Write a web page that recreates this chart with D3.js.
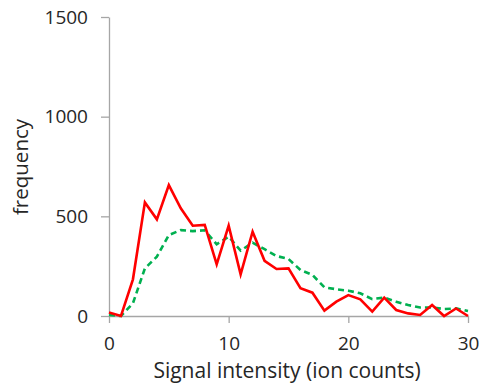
<!DOCTYPE html>
<html>
<head>
<meta charset="utf-8">
<script src="https://cdn.jsdelivr.net/npm/d3@7"></script>
<style>
  html, body { margin: 0; padding: 0; background: #fff; }
  svg { display: block; }
  text { font-family: "Open Sans", "Liberation Sans", sans-serif; fill: #262626; }
</style>
</head>
<body>
<svg id="chart" width="481" height="386"></svg>
<script>
// Signal intensity bins (ion counts)
const intensity = d3.range(0, 31);
// Observed frequency per bin
const observed = [17, 0, 184, 570, 485, 657, 540, 453, 457, 259, 453, 209, 423, 277, 236, 239,
                  139, 117, 27, 72, 105, 84, 22, 92, 30, 13, 5, 55, 0, 38, 0];
// Model frequency per bin
const modeled = [5, 0, 64, 239, 298, 406, 431, 426, 430, 360, 398, 328, 368, 335, 301, 286,
                 231, 206, 144, 134, 127, 114, 85, 92, 72, 55, 43, 43, 35, 38, 25];
const xTicks = [0, 10, 20, 30];
const yTicks = [0, 500, 1000, 1500];

const svg = d3.select("#chart");
const x = d3.scaleLinear().domain([0, 30]).range([109, 468]);
const y = d3.scaleLinear().domain([0, 1500]).range([316, 17]);

const axisColor = "#a6a6a6";
const fontStack = '"Open Sans", "Liberation Sans", sans-serif';

// x axis
const gx = svg.append("g").attr("transform", `translate(0,${y(0)})`)
  .call(d3.axisBottom(x).tickValues(xTicks).tickFormat(d3.format("d"))
    .tickSize(7).tickSizeOuter(0).tickPadding(14));
// y axis
const gy = svg.append("g").attr("transform", `translate(${x(0)},0)`)
  .call(d3.axisLeft(y).tickValues(yTicks).tickFormat(d3.format("d"))
    .tickSize(8).tickSizeOuter(0).tickPadding(13));

[gx, gy].forEach(g => {
  g.select(".domain").attr("stroke", axisColor).attr("stroke-width", 1.3);
  g.selectAll(".tick line").attr("stroke", axisColor).attr("stroke-width", 1.3);
  g.selectAll(".tick text").attr("font-size", 19).attr("fill", "#262626")
    .style("font-family", fontStack);
});

const line = d3.line().x((d, i) => x(intensity[i])).y(d => y(d));

svg.append("path").datum(modeled)
  .attr("d", line)
  .attr("fill", "none")
  .attr("stroke", "#00b050")
  .attr("stroke-width", 2.6)
  .attr("stroke-dasharray", "6,4");

svg.append("path").datum(observed)
  .attr("d", line)
  .attr("fill", "none")
  .attr("stroke", "#ff0000")
  .attr("stroke-width", 2.6)
  .attr("stroke-linejoin", "miter");

// axis titles
svg.append("text")
  .attr("x", 287).attr("y", 378)
  .attr("text-anchor", "middle")
  .attr("font-size", 21)
  .text("Signal intensity (ion counts)");

svg.append("text")
  .attr("transform", "translate(28,167) rotate(-90)")
  .attr("text-anchor", "middle")
  .attr("font-size", 20.5)
  .text("frequency");
</script>
</body>
</html>
